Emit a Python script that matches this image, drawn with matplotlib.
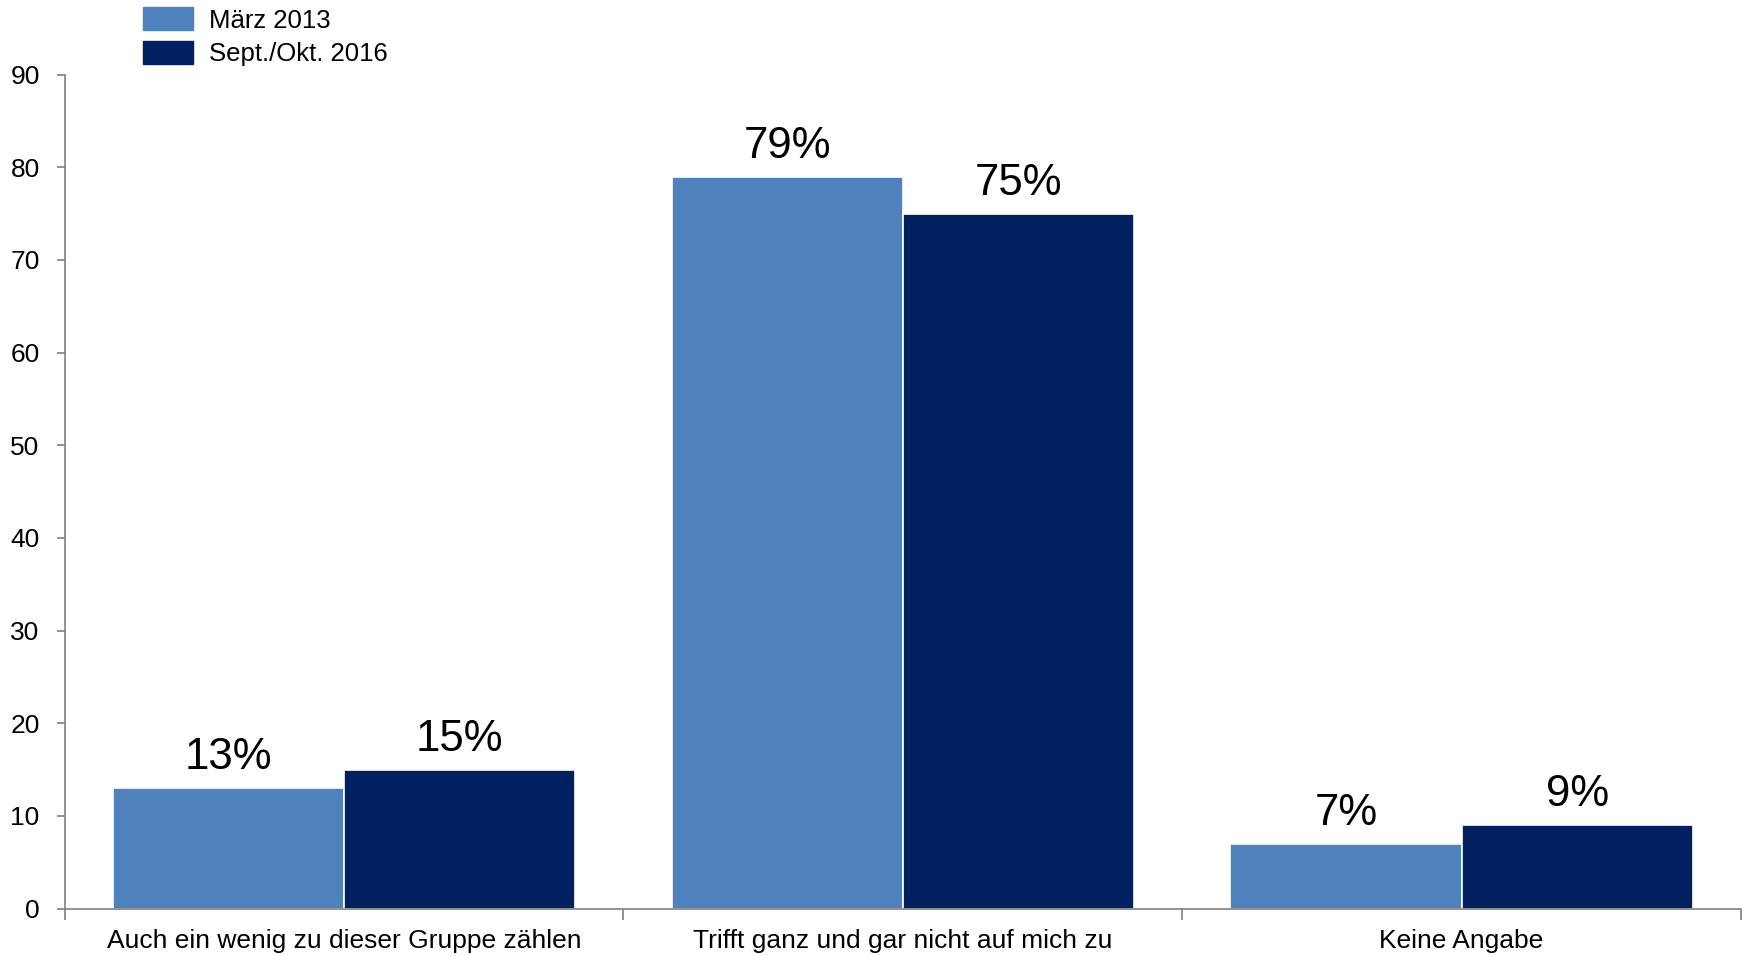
import matplotlib
matplotlib.use("Agg")
import matplotlib.pyplot as plt
import numpy as np
from matplotlib.patches import Patch

categories = ["Auch ein wenig zu dieser Gruppe zählen",
              "Trifft ganz und gar nicht auf mich zu",
              "Keine Angabe"]
series_names = ["März 2013", "Sept./Okt. 2016"]
values_2013 = [13, 79, 7]
values_2016 = [15, 75, 9]
yticks = [0, 10, 20, 30, 40, 50, 60, 70, 80, 90]

colors = ["#4F81BD", "#002060"]

plt.rcParams['font.family'] = ['Liberation Sans', 'DejaVu Sans']

fig = plt.figure(figsize=(17.48, 9.56), dpi=100)
ax = fig.add_axes([0.037, 0.0496, 0.959, 0.8723])

x = np.arange(len(categories))
w = 0.414
b1 = ax.bar(x - w/2, values_2013, width=w, color=colors[0], edgecolor="white", linewidth=1.2)
b2 = ax.bar(x + w/2, values_2016, width=w, color=colors[1], edgecolor="white", linewidth=1.2)

for bars, vals in [(b1, values_2013), (b2, values_2016)]:
    for r, v in zip(bars, vals):
        ax.annotate(f"{v}%", (r.get_x() + r.get_width()/2, v), xytext=(0, 7),
                    textcoords="offset points", ha="center", va="bottom", fontsize=31.5)

ax.set_xlim(-0.5, len(categories) - 0.5)
ax.set_ylim(0, 90)
ax.set_yticks(yticks)
ax.tick_params(axis='y', labelsize=19, length=6, color="#808080", width=1.2, pad=12)
ax.set_xticks(np.arange(len(categories) + 1) - 0.5, minor=False)
ax.set_xticklabels([])
ax.set_xticks(x, minor=True)
ax.set_xticklabels(categories, minor=True, fontsize=19)
ax.tick_params(axis='x', which='major', length=8, color="#808080", width=1.2)
ax.tick_params(axis='x', which='minor', length=0, pad=15)

for s in ["top", "right"]:
    ax.spines[s].set_visible(False)
for s in ["left", "bottom"]:
    ax.spines[s].set_color("#808080")
    ax.spines[s].set_linewidth(1.2)

handles = [Patch(facecolor=c, edgecolor=c) for c in colors]
fig.legend(handles, series_names, loc="upper left", bbox_to_anchor=(0.0757, 1.003),
           frameon=False, fontsize=18.5, handlelength=1.95, handleheight=1.0,
           labelspacing=0.33, handletextpad=0.65, borderaxespad=0)

fig.savefig("out.png", dpi=100)
